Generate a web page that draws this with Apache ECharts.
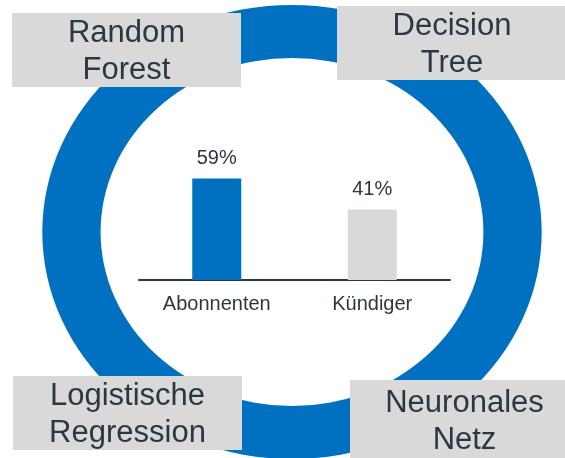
<!DOCTYPE html>
<html>
<head>
<meta charset="utf-8">
<script src="https://cdn.jsdelivr.net/npm/echarts@6/dist/echarts.min.js"></script>
<style>
  html, body { margin: 0; padding: 0; background: #fff; }
  #chart { width: 565px; height: 458px; }
</style>
</head>
<body>
<div id="chart"></div>
<script>
const BLUE = "#0070C0";
const GREY = "#D9D9D9";
const INK = "#2b3743";
const FONT = "'Liberation Sans', Arial, sans-serif";

const categories = ["Abonnenten", "Kündiger"];
const shares = [59, 41];
const barColors = [BLUE, GREY];
const models = ["Random\nForest", "Decision\nTree", "Logistische\nRegression", "Neuronales\nNetz"];

// corner boxes: [x, y, w, h]
const boxes = [
  [12, 13, 229, 74],
  [337, 6, 230, 74],
  [13, 376, 229, 74],
  [350, 380, 229, 80],
];

const chart = echarts.init(document.getElementById("chart"), null, { renderer: "canvas" });

const graphic = [
  {
    type: "ring",
    x: 292, y: 232,
    scaleX: 1.1,
    z: 0,
    shape: { cx: 0, cy: 0, r: 227, r0: 174 },
    style: { fill: BLUE },
  },
];
models.forEach((m, i) => {
  const [x, y, w, h] = boxes[i];
  graphic.push({
    type: "rect", z: 10,
    shape: { x, y, width: w, height: h },
    style: { fill: GREY },
  });
  graphic.push({
    type: "text", z: 11,
    x: x + w / 2, y: y + h / 2 + 2,
    style: {
      text: m, fill: INK, font: "31px " + FONT,
      align: "center", verticalAlign: "middle", lineHeight: 37,
    },
  });
});

chart.setOption({
  animation: false,
  graphic,
  grid: { left: 139, right: 115, top: 108, bottom: 178 },
  xAxis: {
    type: "category",
    data: categories,
    axisLine: { lineStyle: { color: INK, width: 2 } },
    axisTick: { show: false },
    axisLabel: { color: INK, fontSize: 20, fontFamily: FONT, margin: 14 },
  },
  yAxis: {
    type: "value", min: 0, max: 100,
    show: false,
    splitLine: { show: false },
  },
  series: [
    {
      type: "bar",
      barWidth: 49,
      data: shares.map((v, i) => ({ value: v, itemStyle: { color: barColors[i] } })),
      label: {
        show: true, position: "top", distance: 10,
        color: INK, fontSize: 20, fontFamily: FONT,
        formatter: "{c}%",
      },
    },
  ],
});
</script>
</body>
</html>
